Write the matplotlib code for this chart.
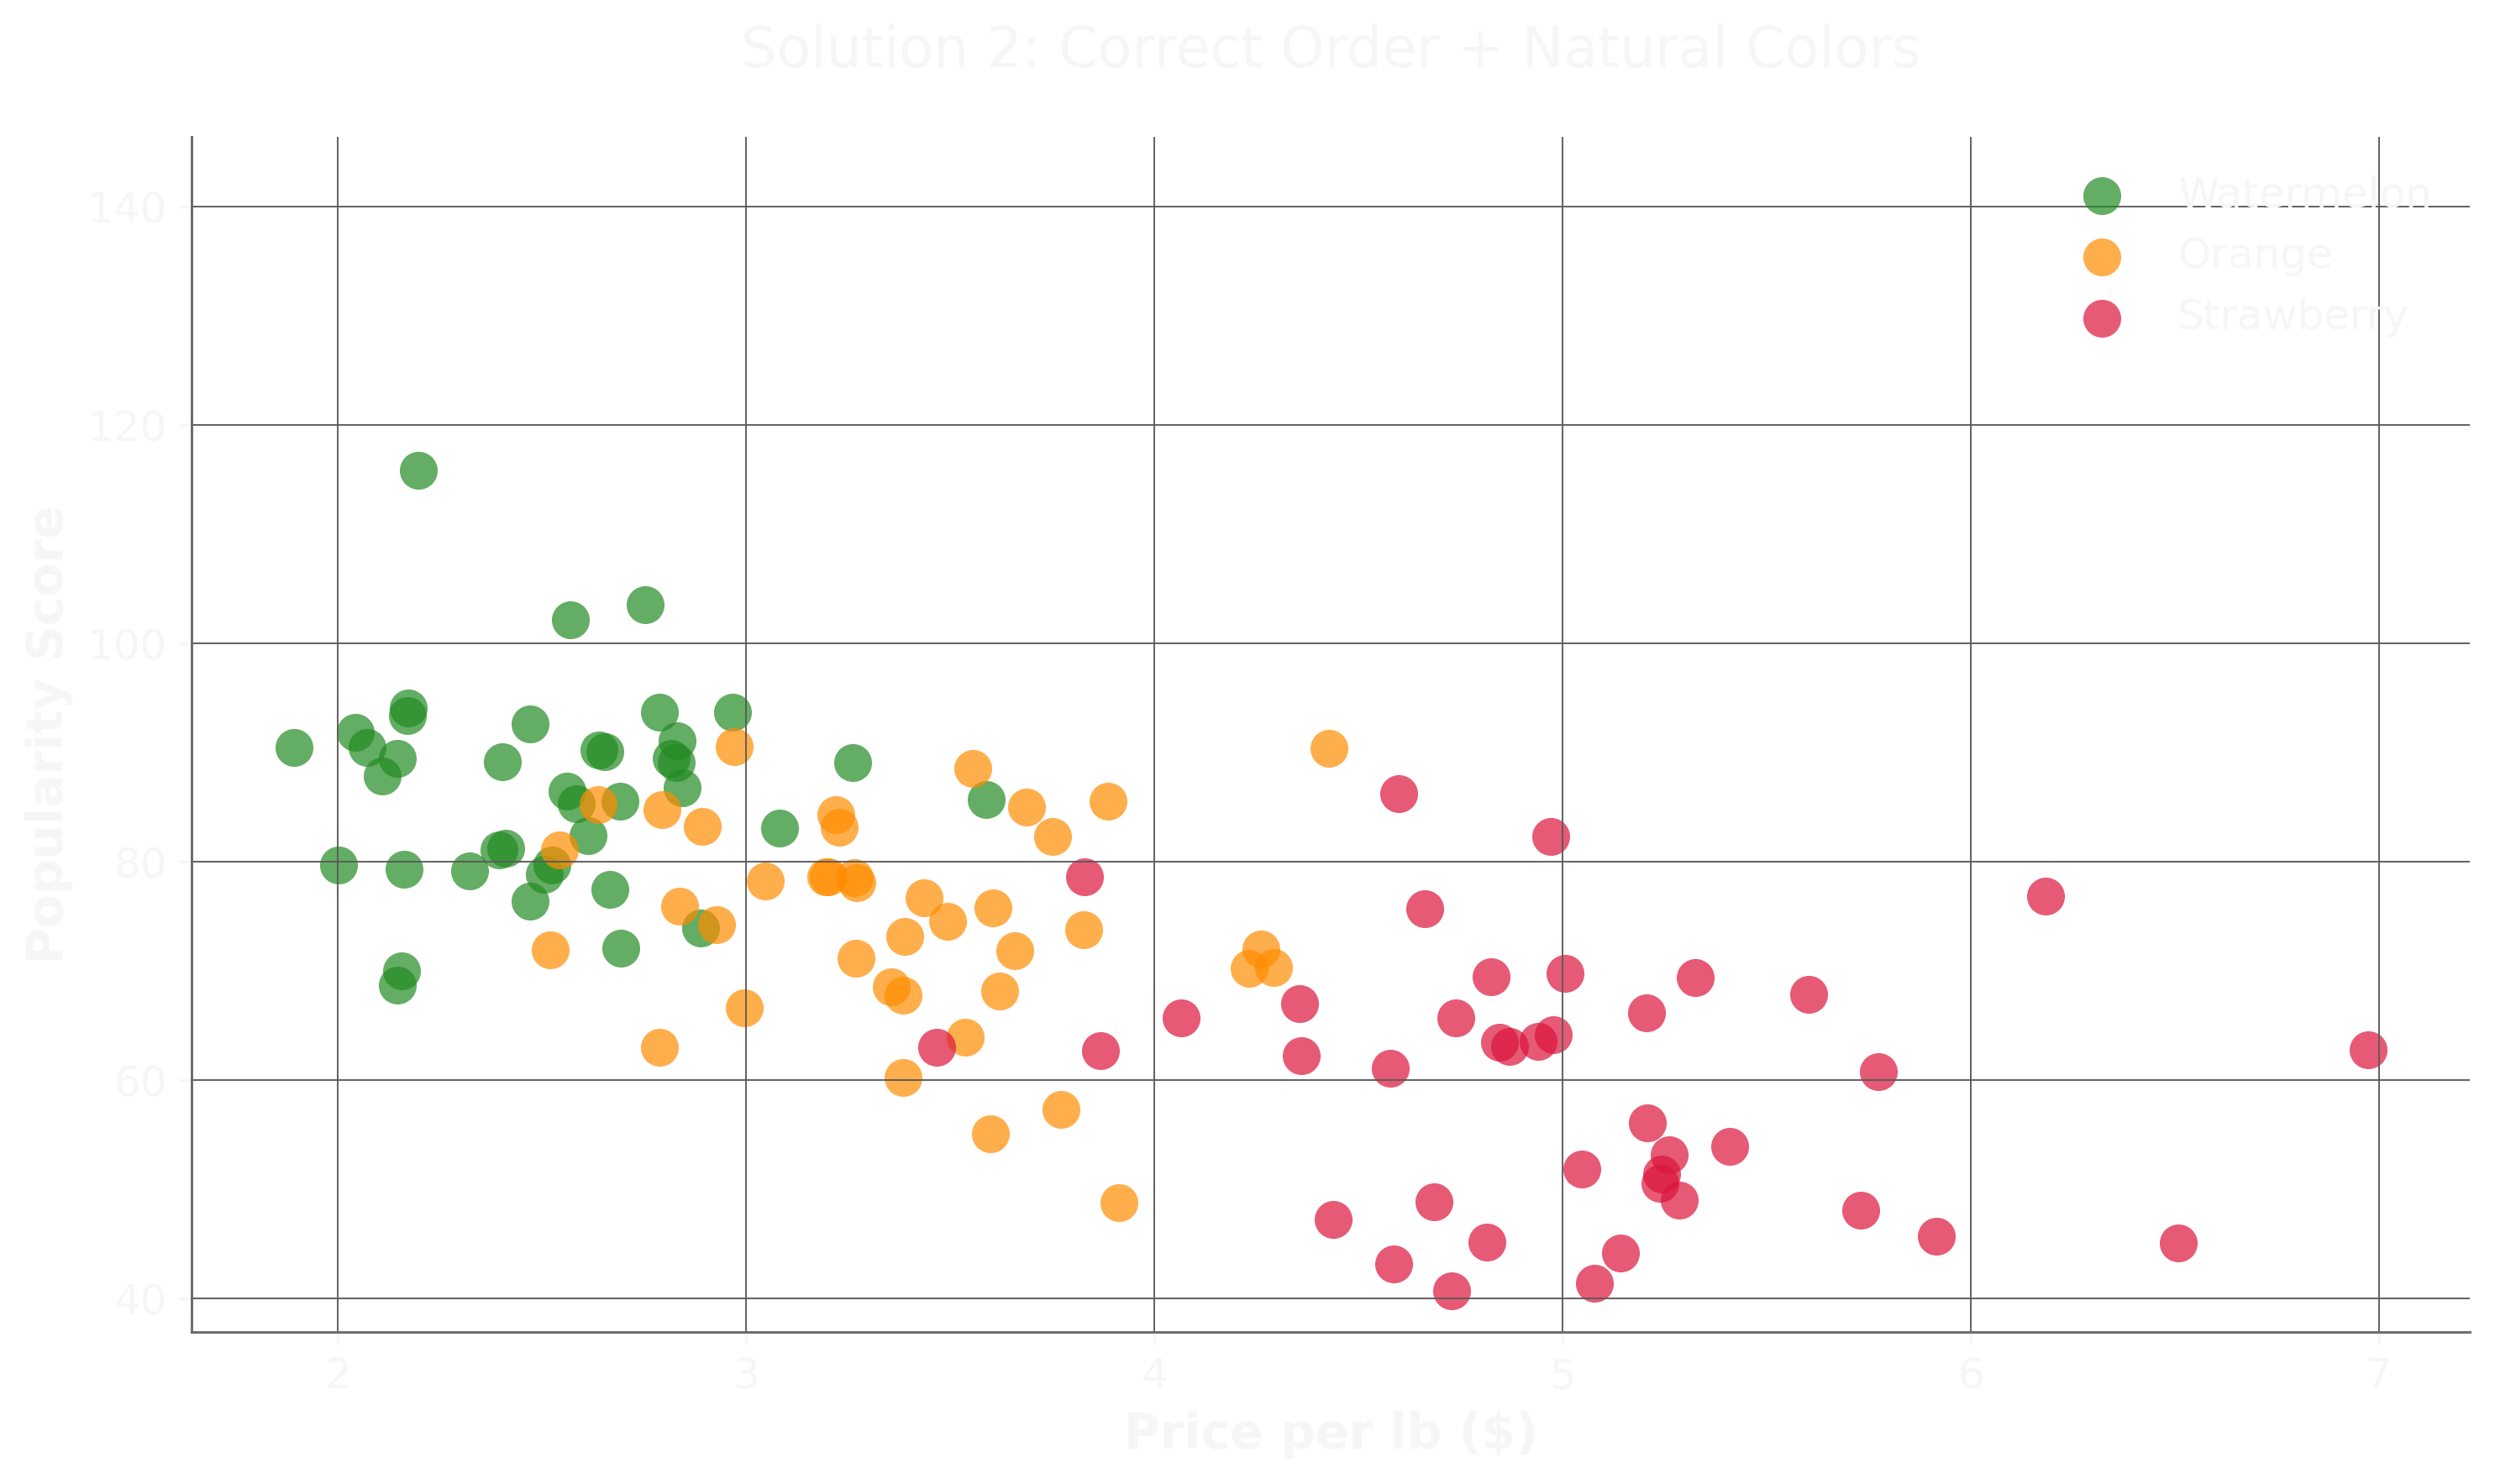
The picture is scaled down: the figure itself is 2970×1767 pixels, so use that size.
import matplotlib
matplotlib.use("Agg")
import matplotlib.pyplot as plt

# Watermelon
wm_price = [2.198, 2.569, 2.752, 1.893, 2.043, 2.072, 2.172, 2.170, 2.145, 2.109,
            2.472, 2.403, 2.639, 2.654, 2.787, 2.832, 2.817, 2.829, 2.844, 2.966,
            3.261, 2.561, 2.585, 2.692, 2.612, 3.083, 2.002, 2.162, 2.323, 2.395,
            2.411, 2.524, 2.506, 2.472, 2.667, 2.888, 2.694, 2.157, 2.146, 3.588]
wm_score = [115.84, 102.14, 103.55, 90.48, 91.85, 90.48, 94.09, 93.42, 89.50, 87.85,
            92.60, 89.15, 90.21, 90.09, 93.70, 91.07, 89.46, 89.11, 86.75, 93.70,
            89.07, 86.44, 85.34, 85.53, 82.43, 83.06, 79.72, 79.29, 79.14, 81.10,
            81.22, 79.69, 78.82, 76.39, 77.45, 73.95, 72.07, 70.03, 68.73, 85.69]

# Orange
or_price = [2.638, 2.544, 2.795, 2.892, 2.972, 3.221, 3.229, 3.048, 3.201, 3.196,
            3.266, 3.272, 3.436, 3.388, 3.269, 3.356, 3.385, 2.996, 2.838, 2.927,
            2.521, 2.788, 3.385, 3.556, 3.688, 3.750, 3.886, 4.427, 3.494, 3.605,
            3.659, 3.826, 3.622, 3.536, 4.261, 4.233, 4.292, 3.599, 3.772, 3.913]
or_score = [85.26, 81.06, 84.75, 83.22, 90.56, 84.32, 83.14, 78.27, 78.59, 78.65,
            78.51, 78.12, 76.70, 73.13, 71.13, 68.54, 67.75, 66.61, 75.92, 74.27,
            71.95, 62.97, 60.22, 88.52, 84.98, 82.35, 85.53, 90.36, 74.58, 75.80,
            71.88, 73.80, 68.18, 63.91, 71.99, 70.22, 70.30, 55.08, 57.28, 48.76]

# Strawberry
st_price = [4.599, 4.972, 3.830, 4.663, 4.824, 5.005, 4.066, 4.355, 4.359, 4.738,
            4.846, 4.870, 4.941, 4.977, 4.577, 3.869, 3.466, 4.439, 4.685, 4.814,
            4.586, 4.728, 5.048, 5.077, 6.182, 5.206, 5.324, 5.602, 5.774, 5.208,
            5.262, 5.410, 5.242, 5.238, 5.285, 5.731, 5.915, 6.509, 5.141, 6.972]
st_score = [86.28, 82.35, 78.59, 75.68, 69.44, 69.75, 65.68, 66.97, 62.22, 65.68,
            63.44, 63.05, 63.55, 64.15, 61.12, 62.69, 63.01, 47.23, 48.88, 45.18,
            43.15, 40.68, 51.86, 41.38, 76.82, 66.18, 69.36, 67.83, 60.77, 56.06,
            53.12, 53.90, 51.38, 50.52, 49.03, 48.05, 45.66, 45.11, 44.13, 62.77]

fruits = ["Watermelon", "Orange", "Strawberry"]
colors = ["forestgreen", "darkorange", "crimson"]

txt = "#f6f6f6"
spine_col = "#6a6a72"

fig = plt.figure(figsize=(9.9, 5.89), dpi=300)
ax = fig.add_axes([0.0768, 0.1024, 0.9131, 0.8053])

series = [(wm_price, wm_score), (or_price, or_score), (st_price, st_score)]
for (px, sc), name, c in zip(series, fruits, colors):
    ax.scatter(px, sc, s=117, color=c, alpha=0.7, linewidths=0, label=name)

ax.set_xlim(1.642, 7.222)
ax.set_ylim(36.92, 146.4)
ax.set_xticks([2, 3, 4, 5, 6, 7])
ax.set_yticks([40, 60, 80, 100, 120, 140])

ax.grid(True, color="#5a5a5a", linewidth=0.45)
for side in ["top", "right"]:
    ax.spines[side].set_visible(False)
for side in ["left", "bottom"]:
    ax.spines[side].set_color(spine_col)
    ax.spines[side].set_linewidth(0.7)

ax.tick_params(colors=txt, labelsize=12)
ax.set_title("Solution 2: Correct Order + Natural Colors", fontsize=16, color=txt, pad=20)
ax.set_xlabel("Price per lb ($)", fontsize=14, fontweight="bold", color=txt)
ax.set_ylabel("Popularity Score", fontsize=14, fontweight="bold", color=txt)

leg = ax.legend(loc="upper right", frameon=False, fontsize=12)
for t in leg.get_texts():
    t.set_color(txt)

fig.savefig("out.png", dpi=300, facecolor="white")
